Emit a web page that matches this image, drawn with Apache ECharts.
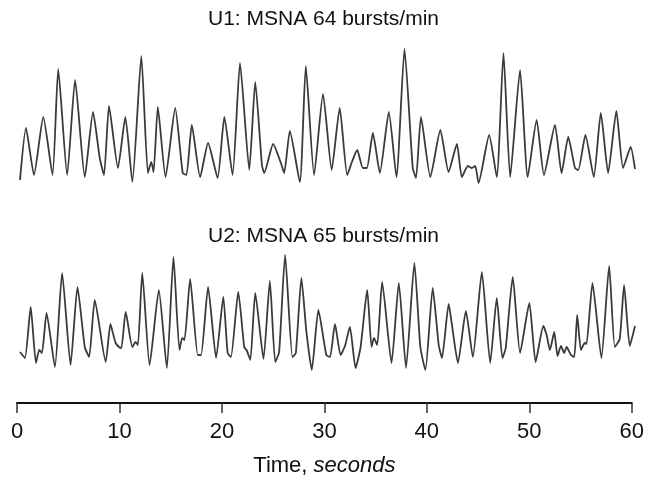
<!DOCTYPE html>
<html>
<head>
<meta charset="utf-8">
<script src="https://cdn.jsdelivr.net/npm/echarts@6/dist/echarts.min.js"></script>
<style>
html,body{margin:0;padding:0;background:#fff;}
#chart{width:647px;height:478px;}
</style>
</head>
<body>
<div id="chart"></div>
<script>
// Titles
const titleU1 = 'U1: MSNA 64 bursts/min';
const titleU2 = 'U2: MSNA 65 bursts/min';
const xTicks = [0, 10, 20, 30, 40, 50, 60];

// U1 trace: time (s) and amplitude (arbitrary units) read at peaks/troughs
const u1Time = [0.29,0.87,1.65,2.55,3.45,4.00,4.87,5.64,6.58,7.38,8.03,8.45,8.93,9.80,10.52,11.20,12.07,12.71,13.04,13.26,13.67,14.42,15.36,16.09,16.45,16.97,17.78,18.55,19.48,20.13,20.93,21.65,22.55,23.13,23.78,24.00,24.87,25.62,25.94,26.49,27.46,28.04,28.84,29.71,30.55,31.33,32.06,32.55,33.03,33.58,33.97,34.55,35.23,36.10,36.84,37.62,38.42,38.74,39.22,40.13,41.10,41.90,42.71,43.19,43.77,44.13,44.49,44.81,45.84,46.58,47.23,47.88,48.84,49.58,50.45,51.16,52.23,52.87,53.52,54.17,54.49,55.19,56.00,56.68,57.39,58.19,58.84,59.58,60.0];
const u1Amp  = [0,52,5,63,5,111,5,100,3,68,22,5,74,12,63,-2,124,7,18,8,73,3,72,7,5,55,3,37,2,63,5,117,10,98,15,7,36,17,7,49,-2,114,5,86,10,72,5,19,30,12,12,47,7,68,3,131,12,2,63,3,50,8,36,3,14,12,14,-3,45,3,127,3,110,3,60,5,55,7,43,12,10,45,3,67,7,69,12,33,11];

// U2 trace
const u2Time = [0.29,0.77,1.33,1.84,2.16,2.42,2.87,3.68,4.38,5.20,5.87,6.58,7.00,7.55,8.61,9.07,9.36,9.58,9.90,10.13,10.55,11.20,11.52,11.74,12.16,12.87,13.77,14.55,15.19,15.77,16.04,16.26,16.81,17.55,17.87,18.55,19.33,20.03,20.45,20.77,21.48,22.06,22.29,22.65,23.13,23.93,24.55,25.07,25.45,26.03,26.74,27.07,27.61,28.10,28.62,29.26,30.03,30.39,30.87,31.42,31.84,32.32,32.87,33.36,34.00,34.42,34.65,34.97,35.45,36.36,37.07,37.77,38.58,39.16,39.65,40.36,40.94,41.26,41.91,42.23,42.81,43.58,44.26,45.13,45.94,46.58,47.13,47.45,48.13,48.84,49.74,50.35,51.10,51.42,51.74,52.16,52.48,52.81,53.13,53.36,53.78,54.10,54.39,54.75,55.13,55.29,55.87,56.74,57.49,58.04,58.52,58.94,59.49,60.0];
const u2Amp  = [18,12,63,7,20,17,57,3,97,5,83,23,13,70,8,46,35,27,23,22,58,23,28,25,97,5,80,2,113,20,32,30,91,15,15,83,12,73,17,13,78,23,20,10,77,11,89,8,18,115,13,17,92,38,0,60,15,13,46,15,24,43,2,23,80,23,32,25,88,7,87,2,107,23,0,82,25,12,66,45,7,59,13,98,7,72,12,22,93,17,67,8,44,35,20,38,14,24,17,23,15,13,55,20,27,26,87,12,104,23,31,85,24,44];

const u1Data = u1Time.map((t, i) => [t, u1Amp[i]]);
const u2Data = u2Time.map((t, i) => [t, u2Amp[i]]);

const chart = echarts.init(document.getElementById('chart'), null, {renderer: 'canvas'});
const FONT = 'Liberation Sans, Arial, Helvetica, sans-serif';
const lineStyle = {color: '#3a3a3a', width: 1.8};

chart.setOption({
  animation: false,
  backgroundColor: '#ffffff',
  title: [
    {text: titleU1, left: 'center', top: 9, padding: 0,
     textStyle: {fontFamily: FONT, fontSize: 21, fontWeight: 'normal', color: '#111'}},
    {text: titleU2, left: 'center', top: 226, padding: 0,
     textStyle: {fontFamily: FONT, fontSize: 21, fontWeight: 'normal', color: '#111'}}
  ],
  grid: [
    {left: 17, right: 12, top: 40, height: 150},
    {left: 17, right: 12, top: 240, height: 140},
    {left: 17, right: 12, top: 396, height: 10}
  ],
  xAxis: [
    {gridIndex: 0, type: 'value', min: 0, max: 60, show: false},
    {gridIndex: 1, type: 'value', min: 0, max: 60, show: false},
    {gridIndex: 2, type: 'value', min: 0, max: 60, interval: 10,
     axisLine: {show: true, lineStyle: {color: '#111', width: 2}},
     axisTick: {show: true, length: 10, lineStyle: {color: '#333', width: 1.5}},
     splitLine: {show: false},
     axisLabel: {fontFamily: FONT, fontSize: 22, color: '#111', margin: 18,
       formatter: v => xTicks.includes(v) ? String(v) : ''},
     name: '{a|Time, }{b|seconds}',
     nameLocation: 'middle', nameGap: 52,
     nameTextStyle: {fontFamily: FONT, fontSize: 22, color: '#111',
       rich: {a: {fontFamily: FONT, fontSize: 22, color: '#111'},
              b: {fontFamily: FONT, fontSize: 22, color: '#111', fontStyle: 'italic'}}}
    }
  ],
  yAxis: [
    {gridIndex: 0, type: 'value', min: -10, max: 140, show: false},
    {gridIndex: 1, type: 'value', min: -10, max: 130, show: false},
    {gridIndex: 2, type: 'value', min: 0, max: 1, show: false}
  ],
  series: [
    {type: 'line', xAxisIndex: 0, yAxisIndex: 0, data: u1Data, showSymbol: false,
     smooth: 0.18, lineStyle: lineStyle},
    {type: 'line', xAxisIndex: 1, yAxisIndex: 1, data: u2Data, showSymbol: false,
     smooth: 0.18, lineStyle: lineStyle}
  ]
});
</script>
</body>
</html>
